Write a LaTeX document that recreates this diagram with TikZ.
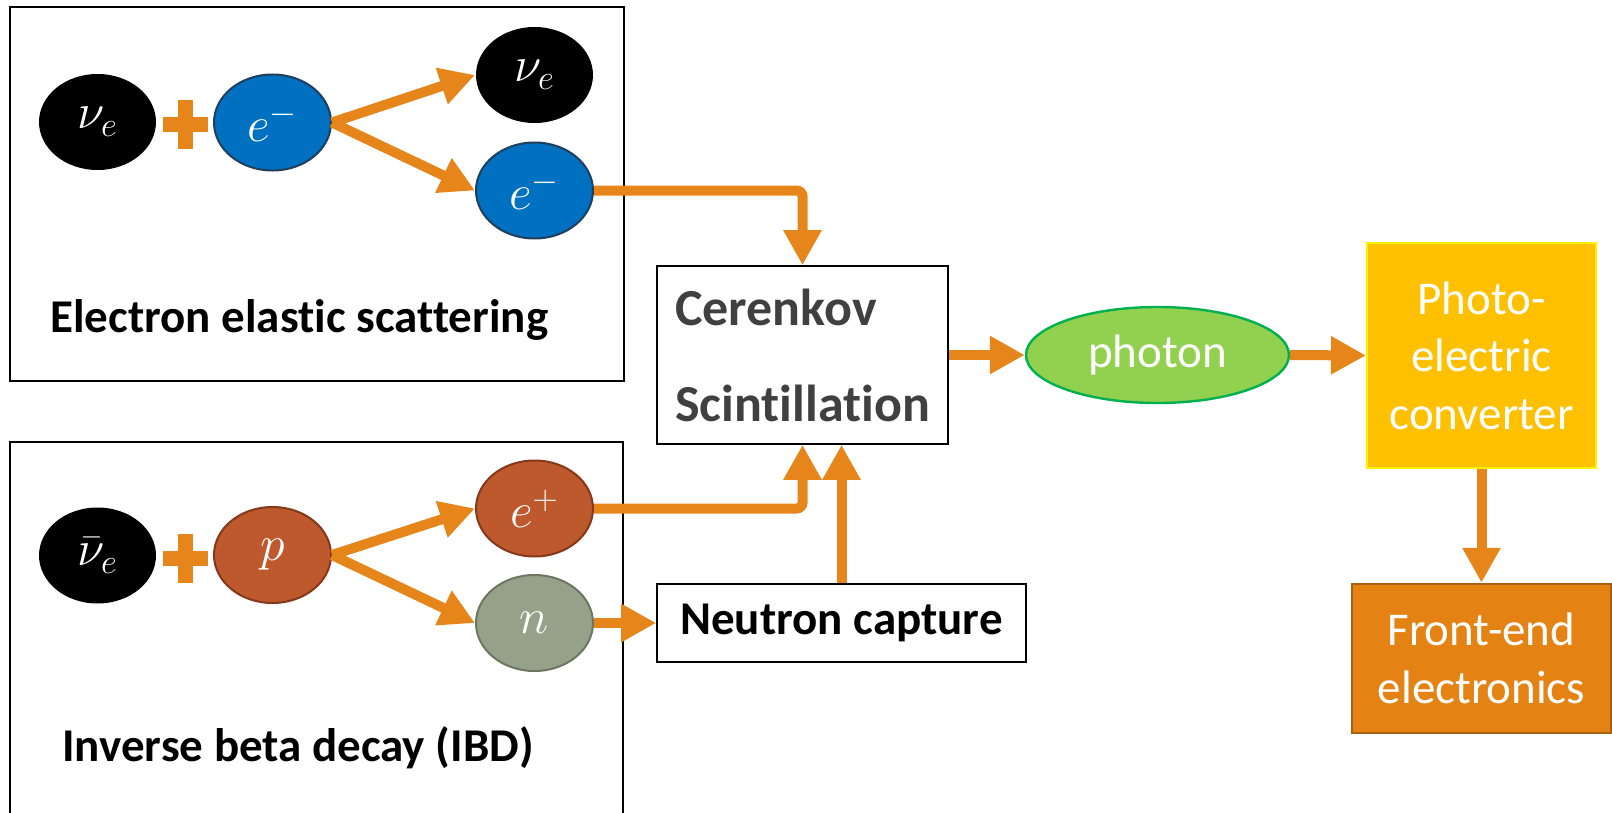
\documentclass[tikz,border=0pt]{standalone}
\usepackage{fontspec}
\setmainfont{Carlito}[Ligatures=NoCommon]
\usetikzlibrary{arrows.meta, shapes, positioning}

\definecolor{flowor}{HTML}{E6851A}
\definecolor{eblue}{HTML}{0070C0}
\definecolor{eblueln}{HTML}{203F5C}
\definecolor{prust}{HTML}{BE582D}
\definecolor{prustln}{HTML}{84391A}
\definecolor{ngray}{HTML}{96A189}
\definecolor{ngrayln}{HTML}{6C7660}
\definecolor{phgreen}{HTML}{92D050}
\definecolor{phgreenln}{HTML}{00B050}
\definecolor{pcgold}{HTML}{FFC000}
\definecolor{feor}{HTML}{E48313}
\definecolor{feorln}{HTML}{A95F14}
\definecolor{cergray}{HTML}{404040}

\begin{document}
\begin{tikzpicture}[x=0.5pt, y=-0.5pt,
    flow/.style={draw=flowor, line width=5pt, rounded corners=3pt,
      -{Triangle[length=17.5pt, width=18pt]}},
    particle/.style={ellipse, minimum width=58.5pt, minimum height=48pt, inner sep=0pt,
      line width=1pt, text=white, font=\fontsize{27}{30}\selectfont},
    frame/.style={draw=black, line width=1.3pt},
    caption/.style={anchor=base west, inner sep=0pt,
      font=\bfseries\fontsize{23.5}{28}\selectfont}]
  \useasboundingbox (0,0) rectangle (1612,813);

  % Frames
  \draw[frame] (10,7) rectangle (624,381);
  \draw[frame] (10,830) |- (623,442) -- (623,830);
  \foreach \py in {125,558}
    \draw[flowor, line width=7.5pt] (163,\py) -- (208,\py) (185.5,\py-24.5) -- (185.5,\py+24.5);

  % Nodes
  \node[particle, fill=black] (nue) at (97.5,122) {$\nu_e$};
  \node[particle, fill=eblue, draw=eblueln] (em) at (272.5,122.5) {$e^-$};
  \node[particle, fill=black] (nueout) at (534.5,75) {$\nu_e$};
  \node[particle, fill=eblue, draw=eblueln] (emout) at (534.5,190.5) {$e^-$};
  \node[caption] (eslabel) at (50,332) {Electron elastic scattering};

  \node[particle, fill=black] (anue) at (97.5,555.5) {$\bar{\nu}_e$};
  \node[particle, fill=prust, draw=prustln] (p) at (272.5,555) {$p$};
  \node[particle, fill=prust, draw=prustln] (ep) at (534.5,508.5) {$e^+$};
  \node[particle, fill=ngray, draw=ngrayln] (n) at (534.5,623) {$n$};
  \node[caption] (ibdlabel) at (62,761) {Inverse beta decay (IBD)};

  \node[draw, line width=0.8pt, minimum width=145.5pt, minimum height=89pt,
    align=left, text=cergray, font=\bfseries\fontsize{26}{48}\selectfont]
    (cer) at (802.5,355) {Cerenkov\\Scintillation};
  \node[draw, line width=0.8pt, minimum width=184.5pt, minimum height=39pt,
    font=\bfseries\fontsize{23.5}{28}\selectfont]
    (ncap) at (841.5,623) {Neutron capture};
  \node[ellipse, fill=phgreen, draw=phgreenln, line width=1.2pt, minimum width=131.5pt,
    minimum height=48pt, text=white, font=\fontsize{23.5}{28}\selectfont]
    (photon) at (1157.5,355) {photon};
  \node[fill=pcgold, draw=yellow, line width=1pt, minimum width=114.5pt,
    minimum height=112.5pt, align=center, text=white,
    font=\fontsize{23.5}{28.75}\selectfont]
    (pec) at (1481.5,355.5) {Photo-\\electric\\converter};
  \node[fill=feor, draw=feorln, line width=1.2pt, minimum width=129.5pt,
    minimum height=74.5pt, align=center, text=white,
    font=\fontsize{23.5}{28.75}\selectfont]
    (fee) at (1481.5,658.5) {Front-end\\electronics};

  % Edges
  \draw[flow] (em.east) -- (nueout.west);
  \draw[flow] (em.east) -- (emout.west);
  \draw[flow] (p.east) -- (ep.west);
  \draw[flow] (p.east) -- (n.west);
  \draw[flow] (emout.east) -| (cer.north);
  \draw[flow] (ep.east) -| (cer.south);
  \draw[flow] (ncap.north) -- (ncap.north |- cer.south);
  \draw[flow] (n.east) -- (ncap.west);
  \draw[flow] (cer.east) -- (photon.west);
  \draw[flow] (photon.east) -- (pec.west);
  \draw[flow] (pec.south) -- (fee.north);

\end{tikzpicture}
\end{document}
